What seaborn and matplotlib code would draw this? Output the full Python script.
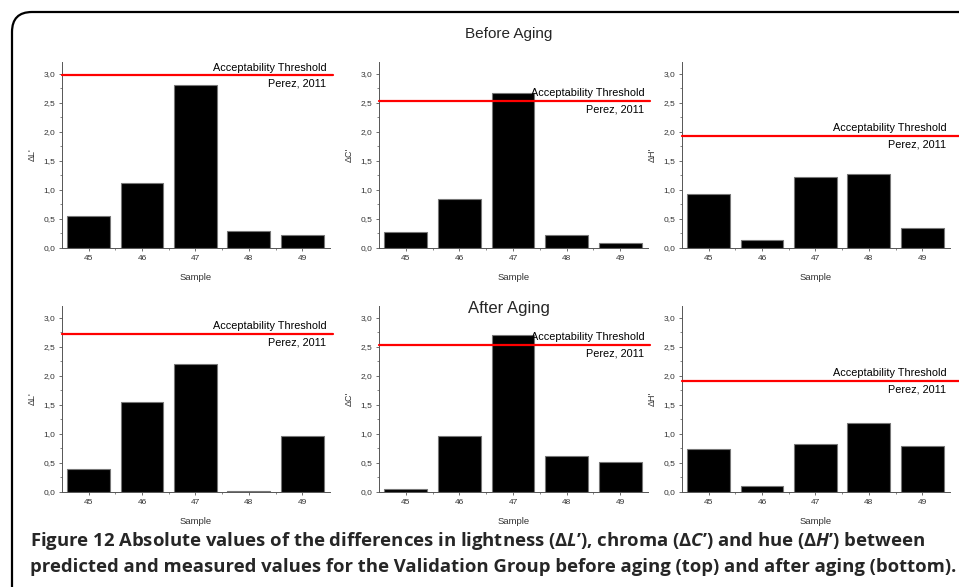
import matplotlib
matplotlib.use('Agg')
import matplotlib.pyplot as plt
import seaborn as sns
import pandas as pd
from matplotlib.patches import FancyBboxPatch
from matplotlib.ticker import MultipleLocator, FuncFormatter
from matplotlib.transforms import blended_transform_factory

# =============================================================================
# Data
# =============================================================================

samples = ['45', '46', '47', '48', '49']

dL_before = [0.55, 1.11, 2.81, 0.30, 0.22]
dC_before = [0.27, 0.85, 2.66, 0.23, 0.09]
dH_before = [0.93, 0.14, 1.23, 1.27, 0.34]

dL_after = [0.40, 1.55, 2.20, 0.02, 0.97]
dC_after = [0.06, 0.96, 2.70, 0.62, 0.51]
dH_after = [0.74, 0.10, 0.83, 1.18, 0.79]

thr_before = [2.97, 2.53, 1.93]
thr_after = [2.72, 2.53, 1.91]

ylabels = ["ΔL'", "ΔC'", "ΔH'"]
thr_text = 'Acceptability Threshold'
ref_text = 'Perez, 2011'

caption1 = ("Figure 12 Absolute values of the differences in lightness (Δ$L$’), "
            "chroma (Δ$C$’) and hue (Δ$H$’) between")
caption2 = ("predicted and measured values for the Validation Group before aging "
            "(top) and after aging (bottom).")

# =============================================================================
# Style
# =============================================================================

sns.set_theme(style='ticks')
plt.rcParams['font.family'] = ['Liberation Sans', 'DejaVu Sans']
plt.rcParams['mathtext.fontset'] = 'custom'
plt.rcParams['mathtext.rm'] = 'Open Sans:bold'
plt.rcParams['mathtext.it'] = 'Open Sans:italic:bold'

W, H = 959, 587
fig = plt.figure(figsize=(W / 100, H / 100), dpi=100)
fig.patch.set_facecolor('white')


def px_rect(l, r, t, b):
    return [l / W, 1 - b / H, (r - l) / W, (b - t) / H]


cols = [(62, 330), (379, 648), (682, 950)]
rows = [(62, 248), (306, 492)]
line_ends = [1.011, 1.008, 1.034]

panel_data = [[dL_before, dC_before, dH_before],
              [dL_after, dC_after, dH_after]]
panel_thr = [thr_before, thr_after]

comma = FuncFormatter(lambda v, p: ('%.1f' % v).replace('.', ','))

for i, (t, b) in enumerate(rows):
    for j, (l, r) in enumerate(cols):
        ax = fig.add_axes(px_rect(l, r, t, b))
        df = pd.DataFrame({'Sample': samples, 'value': panel_data[i][j]})
        sns.barplot(data=df, x='Sample', y='value', color='black',
                    edgecolor='#777777', linewidth=0.8, width=0.8,
                    saturation=1, ax=ax)
        ax.set_xlim(-0.5, 4.52)
        ax.set_ylim(0, 3.2)
        ax.yaxis.set_major_locator(MultipleLocator(0.5))
        ax.yaxis.set_minor_locator(MultipleLocator(0.25))
        ax.yaxis.set_major_formatter(comma)
        ax.set_xticks([0.5, 1.5, 2.5, 3.5], minor=True)
        ax.tick_params(which='major', length=2.5, width=0.6, color='#555555',
                       labelsize=6, labelcolor='#333333', pad=2.5)
        ax.tick_params(which='minor', length=1.5, width=0.5, color='#555555')
        for s in ['top', 'right']:
            ax.spines[s].set_visible(False)
        for s in ['left', 'bottom']:
            ax.spines[s].set_color('#555555')
            ax.spines[s].set_linewidth(0.7)
        ax.set_xlabel('Sample', fontsize=6.8, color='#333333')
        ax.set_ylabel(ylabels[j], fontsize=6.5, color='#333333')
        ax.xaxis.set_label_coords(0.5, -25 / (b - t))
        ax.yaxis.set_label_coords(-25 / (r - l), 0.5)

        thr = panel_thr[i][j]
        ax.axhline(thr, xmin=0, xmax=line_ends[j], color='red', lw=1.6,
                   clip_on=False, zorder=5)
        tr = blended_transform_factory(ax.transAxes, ax.transData)
        ax.annotate(thr_text, xy=(1, thr), xycoords=tr, xytext=(-2.5, 2),
                    textcoords='offset points', ha='right', va='bottom',
                    fontsize=7.8, color='black', zorder=6)
        ax.annotate(ref_text, xy=(1, thr), xycoords=tr, xytext=(-2.5, -2.5),
                    textcoords='offset points', ha='right', va='top',
                    fontsize=7.8, color='black', zorder=6)

fig.text(509 / W, 1 - 34 / H, 'Before Aging', ha='center', va='center',
         fontsize=11)
fig.text(509 / W, 1 - 308 / H, 'After Aging', ha='center', va='center',
         fontsize=12)

# caption, sized so that the longer line fits the frame
cap1 = fig.text(30 / W, 1 - 541 / H, caption1, ha='left', va='center',
                fontsize=12, fontweight='bold', family='Open Sans')
cap2 = fig.text(30 / W, 1 - 567 / H, caption2, ha='left', va='center',
                fontsize=12, fontweight='bold', family='Open Sans')
renderer = fig.canvas.get_renderer()
w1 = cap1.get_window_extent(renderer).width
w2 = cap2.get_window_extent(renderer).width
size = 12 * 922 / max(w1, w2)
cap1.set_fontsize(size)
cap2.set_fontsize(size)

# rounded frame, only left and top edges show
frame = FancyBboxPatch((0.12, -1.0), 11.0, 6.75,
                       boxstyle='round,pad=0,rounding_size=0.2',
                       transform=fig.dpi_scale_trans, fill=False,
                       edgecolor='black', linewidth=1.6)
fig.add_artist(frame)

fig.savefig('out.png', dpi=100)
